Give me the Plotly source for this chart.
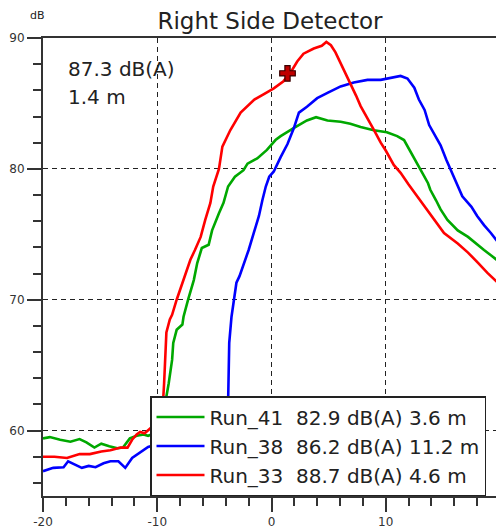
import plotly.graph_objects as go

# ---- data ----
run41_x = [-20, -19.4, -18.5, -17.6, -16.8, -16.2, -15.5, -14.9, -14.2, -13.5, -13.0, -12.4, -11.8, -11.2, -10.8,
           -10.2, -9.7, -9.3, -9.0, -8.7, -8.6, -8.3, -7.8, -7.7, -7.3, -6.8, -6.5, -6.1, -5.5, -5.2, -4.6, -4.2,
           -3.8, -3.2, -2.45, -2.1, -1.25, -0.4, 0.35, 0.8, 1.9, 3.1, 3.9, 4.9, 6.05, 6.9, 7.8, 8.95, 10.1, 11.0,
           11.6, 12.0, 12.5, 12.9, 13.2, 13.7, 13.9, 14.4, 14.8, 15.4, 16.3, 17.2, 18.0, 18.6, 19.2, 19.9, 20]
run41_y = [59.4, 59.5, 59.3, 59.15, 59.35, 59.1, 58.7, 59.0, 58.8, 58.65, 58.7, 59.4, 59.6, 59.7, 59.6,
           59.8, 60.8, 62.1, 63.6, 65.4, 66.7, 67.7, 68.1, 68.7, 70.0, 71.5, 72.8, 73.95, 74.2, 75.3, 76.6, 77.4,
           78.65, 79.4, 79.9, 80.4, 80.8, 81.45, 82.2, 82.5, 83.1, 83.7, 83.95, 83.7, 83.6, 83.45, 83.2, 82.95, 82.8, 82.5,
           82.2, 81.6, 80.8, 80.2, 79.7, 78.9, 78.4, 77.6, 76.9, 76.1, 75.3, 74.8, 74.2, 73.8, 73.4, 72.9, 72.85]

run38_x = [-20, -19.1, -18.2, -17.8, -17.2, -16.6, -16.0, -15.4, -14.7, -14.1, -13.4, -12.8, -12.2, -11.7, -11.05, -10.8,
           -9.0, -7.0, -5.0, -4.1, -3.8, -3.75, -3.7, -3.5, -3.3, -3.07, -2.8, -2.4, -2.0, -1.55, -1.1, -0.8, -0.5, -0.2,
           0.2, 0.8, 1.4, 1.95, 2.4, 3.1, 4.0, 4.9, 6.05, 7.2, 8.4, 9.56, 10.7, 11.3, 11.9, 12.5, 12.9, 13.4, 13.8,
           14.2, 14.8, 15.3, 15.7, 16.1, 16.7, 17.5, 18.0, 18.6, 19.2, 19.9, 20]
run38_y = [56.9, 57.15, 57.2, 57.65, 57.4, 57.15, 57.3, 57.2, 57.5, 57.65, 57.65, 57.15, 57.9, 58.2, 58.55, 58.75,
           59.2, 59.6, 60.2, 61.0, 62.1, 64.9, 66.7, 68.7, 70.0, 71.3, 71.8, 72.8, 73.8, 75.1, 76.4, 77.6, 78.65, 79.4,
           79.8, 80.9, 81.9, 83.1, 84.3, 84.75, 85.4, 85.8, 86.3, 86.6, 86.8, 86.8, 87.0, 87.1, 86.9, 86.2, 85.3, 84.5, 83.35,
           82.7, 81.8, 80.7, 79.9, 79.1, 77.9, 77.1, 76.4, 75.7, 75.1, 74.3, 74.2]

run33_x = [-20, -19.0, -17.9, -16.8, -15.9, -14.9, -14.1, -13.2, -12.6, -12.2, -11.8, -11.5, -11.1, -10.8,
           -10.3, -9.8, -9.5, -9.4, -9.3, -9.2, -8.9, -8.7, -8.3, -7.7, -7.1, -6.7, -6.2, -5.8, -5.35, -5.1, -4.6,
           -4.3, -3.6, -2.7, -1.5, -0.7, 0.2, 1.05, 1.7, 2.25, 2.8, 3.7, 4.4, 4.8, 5.2, 5.6, 6.05, 6.5, 6.9, 7.4,
           7.8, 8.4, 8.95, 9.56, 10.0, 10.7, 11.3, 12.0, 12.5, 13.4, 14.2, 15.1, 16.3, 17.2, 18.1, 18.9, 19.8, 20]
run33_y = [58.0, 58.0, 57.9, 58.2, 58.2, 58.4, 58.5, 58.7, 58.7, 59.3, 59.7, 59.9, 59.8, 60.0,
           60.4, 61.2, 62.1, 63.6, 65.9, 67.5, 68.5, 68.85, 70.0, 71.5, 73.05, 73.8, 74.8, 76.1, 77.4, 78.65, 80.0,
           81.7, 82.97, 84.3, 85.3, 85.7, 86.15, 86.7, 87.4, 88.2, 88.8, 89.2, 89.4, 89.7, 89.45, 88.9, 88.1, 87.3, 86.6, 85.6,
           84.8, 83.9, 83.0, 82.0, 81.4, 80.3, 79.7, 78.8, 78.2, 77.1, 76.1, 75.1, 74.3, 73.6, 72.8, 72.05, 71.3, 71.1]

legend_names = ["Run_41  82.9 dB(A) 3.6 m", "Run_38  86.2 dB(A) 11.2 m", "Run_33  88.7 dB(A) 4.6 m"]
cursor_x = [1.4]
cursor_y = [87.3]
cursor_text = ["87.3 dB(A)", "1.4 m"]

x_tickvals = [-20, -10, 0, 10, 20]
x_ticktext = ["-20", "-10", "0", "10", "20"]
y_tickvals = [60, 70, 80, 90]
y_ticktext = ["60", "70", "80", "90"]

# ---- layout geometry ----
# The page body has an 8px default margin, so the figure is drawn 8px in
# from the window's top-left corner; positions below are window pixels.
OFF = 8
W, H = 504 - OFF, 530 - OFF
PLOT_L, PLOT_R, PLOT_T, PLOT_B = 43, 500, 38, 496      # window pixels of the plot area
L, R, T, B = PLOT_L - OFF, W - (PLOT_R - OFF), PLOT_T - OFF, H - (PLOT_B - OFF)
PW, PH = W - L - R, H - T - B


def px_x(px):
    return (px - OFF - L) / PW


def px_y(py):
    return (H - B - (py - OFF)) / PH


FONT = "DejaVu Sans"
INK = "#222222"

fig = go.Figure()
fig.add_trace(go.Scatter(x=run41_x, y=run41_y, mode="lines", name=legend_names[0],
                         line=dict(color="#00a800", width=2.6)))
fig.add_trace(go.Scatter(x=run38_x, y=run38_y, mode="lines", name=legend_names[1],
                         line=dict(color="#0000ff", width=2.6)))
fig.add_trace(go.Scatter(x=run33_x, y=run33_y, mode="lines", name=legend_names[2],
                         line=dict(color="#ff0000", width=2.6)))
fig.add_trace(go.Scatter(x=cursor_x, y=cursor_y, mode="markers", showlegend=False,
                         marker=dict(symbol="cross", size=13, color="#c00000",
                                     line=dict(color="#3a0000", width=1.2))))

axis_common = dict(
    showline=True, linecolor="#333333", linewidth=2, mirror=True, automargin=False,
    ticks="outside", ticklen=14, tickwidth=1.5, tickcolor="#333333",
    showgrid=True, gridcolor="#222222", gridwidth=1.2, griddash="5px,4px",
    zeroline=False, tickfont=dict(family=FONT, size=12, color="#333333"),
    minor=dict(ticks="outside", ticklen=8, tickwidth=1.5, tickcolor="#333333", dtick=2, tick0=0, showgrid=False),
)

fig.update_xaxes(range=[-20, 20], tickmode="array", tickvals=x_tickvals, ticktext=x_ticktext, **axis_common)
fig.update_yaxes(range=[55, 90], tickmode="array", tickvals=y_tickvals, ticktext=y_ticktext, **axis_common)

fig.update_layout(
    width=W, height=H,
    margin=dict(l=L, r=R, t=T, b=B, pad=0, autoexpand=False),
    plot_bgcolor="white", paper_bgcolor="white",
    font=dict(family=FONT, color=INK),
    title=dict(text="Right Side Detector", x=(270 - OFF) / W, xanchor="center", y=1 - (21 - OFF) / H,
               yanchor="middle", font=dict(family=FONT, size=23, color=INK)),
    legend=dict(x=px_x(150), y=px_y(396), xanchor="left", yanchor="top",
                bgcolor="white", bordercolor="#222222", borderwidth=1.5,
                font=dict(family=FONT, size=20, color=INK), itemwidth=48, tracegroupgap=0),
    annotations=[
        dict(text="dB", xref="paper", yref="paper", x=px_x(37), y=px_y(15), xanchor="center", yanchor="middle",
             showarrow=False, font=dict(family=FONT, size=11, color=INK)),
        dict(text=cursor_text[0], xref="paper", yref="paper", x=px_x(66), y=px_y(69), xanchor="left",
             yanchor="middle", showarrow=False, font=dict(family=FONT, size=20, color=INK)),
        dict(text=cursor_text[1], xref="paper", yref="paper", x=px_x(66), y=px_y(97), xanchor="left",
             yanchor="middle", showarrow=False, font=dict(family=FONT, size=20, color=INK)),
    ],
)

fig.write_html("out.html")
